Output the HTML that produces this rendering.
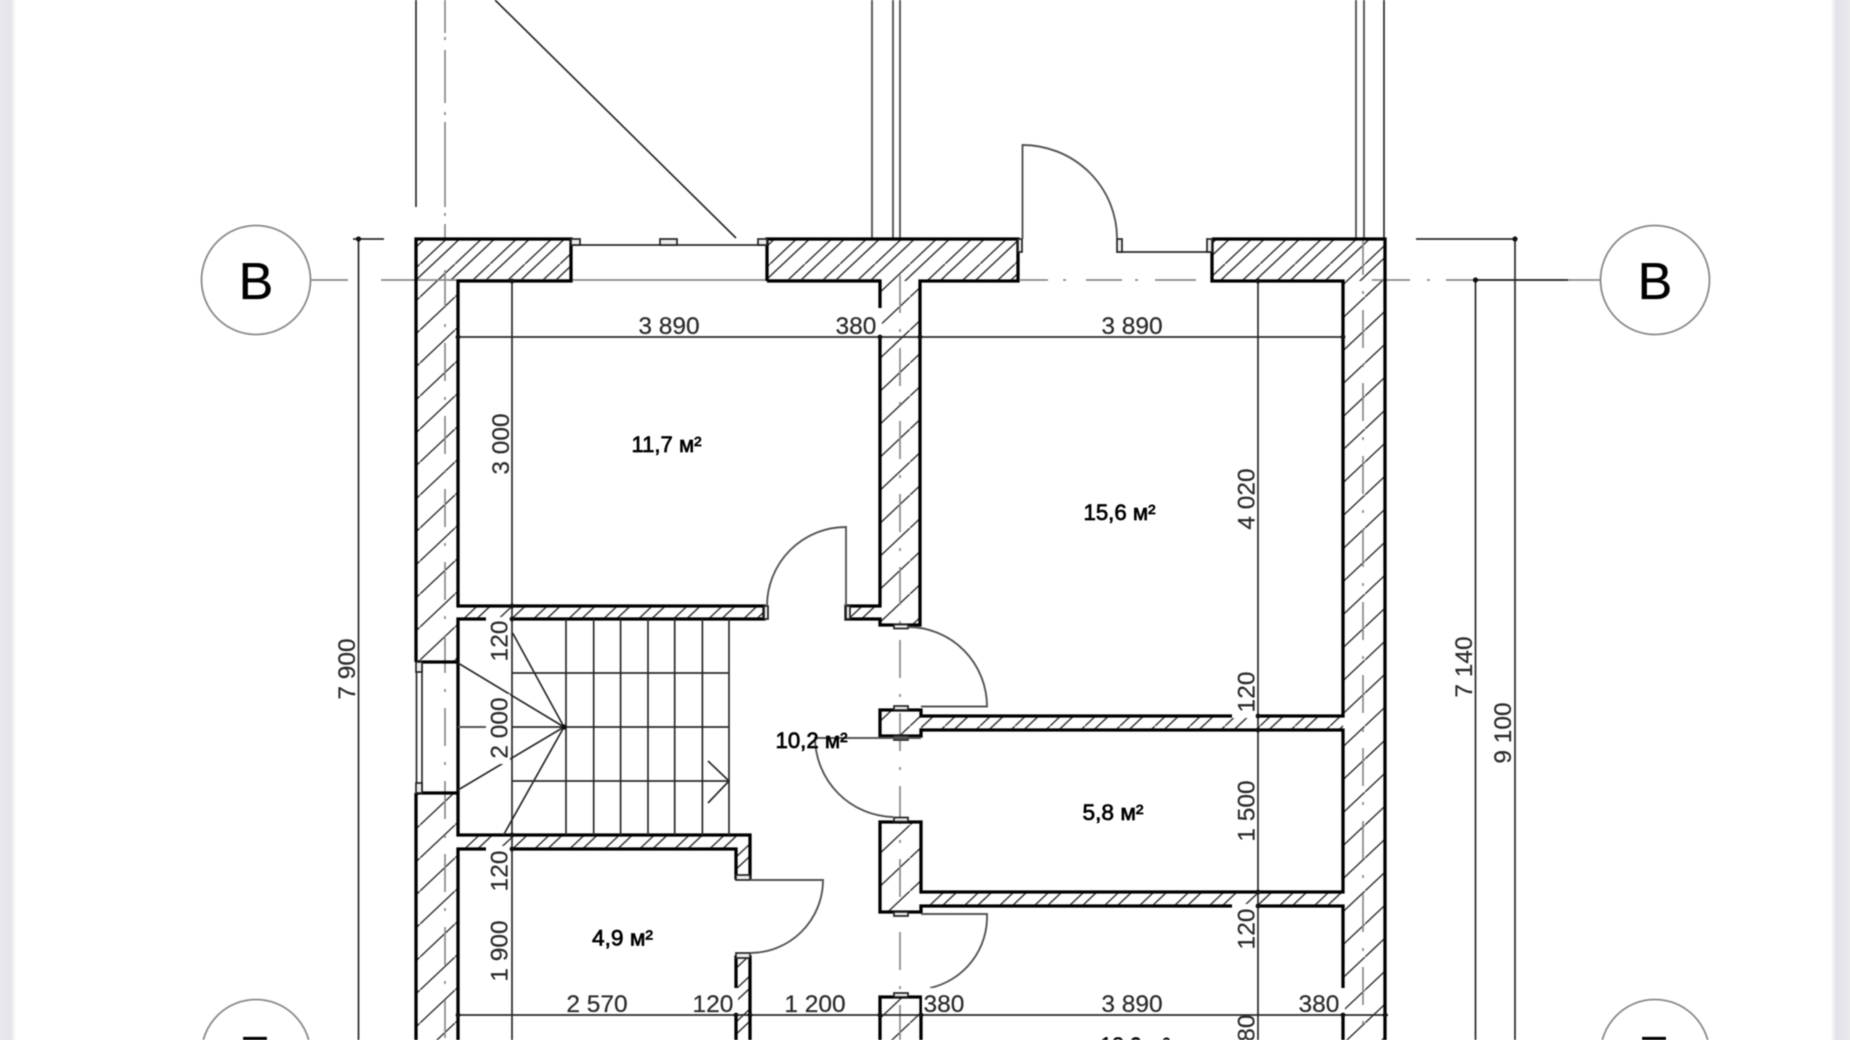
<!DOCTYPE html>
<html>
<head>
<meta charset="utf-8">
<title>Floor plan</title>
<style>
html,body{margin:0;padding:0;width:1850px;height:1040px;overflow:hidden;background:#fff}
#l,#r{position:absolute;top:0;height:1040px}
#l{left:0;width:17px;background:linear-gradient(to right,#e9e9ee 0,#e4e4ea 11px,#f6f6f8 14px,#fff 17px)}
#r{right:0;width:20px;background:linear-gradient(to left,#e9e9ee 0,#e2e2e8 14px,#f4f4f6 17px,#fff 20px)}
svg{position:absolute;left:0;top:0;filter:blur(.6px)}
text{font-family:"Liberation Sans",sans-serif}
.d{font-size:24.500px;fill:#2a2a2a;text-anchor:middle;stroke:#2a2a2a;stroke-width:.2px}
.a{font-size:22px;fill:#000;stroke:#000;stroke-width:.7px}
.o{fill:none;stroke:#000;stroke-width:3.3}
.t{fill:none;stroke:#2a2a2a;stroke-width:1.7}
.g{fill:none;stroke:#555;stroke-width:1.9}
.x{fill:none;stroke:#8a8a8a;stroke-width:1.7;stroke-dasharray:38 16 3 16}
.y{fill:none;stroke:#8a8a8a;stroke-width:1.7}
.m{fill:#eee;stroke:#222;stroke-width:1.7}
.c{fill:#fff;stroke:#8a8a8a;stroke-width:1.8}
.b{font-size:52px;fill:#000;text-anchor:middle;stroke:#000;stroke-width:.3px}
</style>
</head>
<body>
<div id="l"></div><div id="r"></div>
<svg width="1850" height="1040" viewBox="0 0 1850 1040" xmlns="http://www.w3.org/2000/svg">
<defs>
<pattern id="h" width="35" height="33" patternUnits="userSpaceOnUse">
<path d="M-3.500 36.300L38.500 -3.300M9.500 36.300L38.500 9M-3.500 15.500L16.500 -3.300" stroke="#3a3a3a" stroke-width="1.5" fill="none"/>
</pattern>
<pattern id="v" width="35" height="33" patternUnits="userSpaceOnUse">
<path d="M-3.500 36.300L38.500 -3.300" stroke="#3a3a3a" stroke-width="1.5" fill="none"/>
</pattern>
</defs>

<!-- top lines -->
<path class="t" d="M416 0V207M495 0L736 238M1384 0V239"/>
<path class="g" d="M872 0V239M893 0V239M900 0V239M1356 0V239M1364 0V239"/>

<!-- hatch -->
<g fill="url(#h)">
<rect x="416" y="239" width="155" height="42"/>
<rect x="767" y="239" width="251" height="42"/>
<rect x="1212" y="239" width="173" height="42"/>
<rect x="458" y="606" width="306" height="13"/>
<rect x="846" y="606" width="34" height="13"/>
<rect x="458" y="835" width="292" height="14"/>
<rect x="736" y="849" width="14" height="29"/>
<rect x="736" y="957" width="14" height="83"/>
<rect x="921" y="716" width="422" height="14"/>
<rect x="921" y="892" width="422" height="14"/>
</g>
<g fill="url(#v)">
<rect x="416" y="281" width="42" height="381"/>
<rect x="416" y="793" width="42" height="247"/>
<rect x="880" y="281" width="40" height="344"/>
<rect x="1343" y="281" width="42" height="759"/>
<rect x="880" y="710" width="41" height="26"/>
<rect x="880" y="822" width="41" height="90"/>
<rect x="880" y="997" width="41" height="43"/>
</g>

<!-- axes -->
<path class="y" d="M445 0V33M445 37V40M445 50V103M445 112V115M445 122V207M445 213V216M445 224V239"/>
<path class="x" d="M445 270V1040"/>
<path class="x" d="M1363 237V1040"/>
<path class="x" d="M900 275V1040"/>
<path class="y" d="M311 280H348M381 280H880"/>
<path class="y" d="M1020 280H1048M1063 280H1066M1086 280H1122M1135 280H1138M1155 280H1196"/>
<path class="y" d="M1372 280H1410M1427 280H1430M1446 280H1600"/>

<!-- wall outlines -->
<path class="o" d="M416 662V239H571V281H458V606H764V619H458V835H750V878H736V849H458V1040"/>
<path class="o" d="M416 662H458M416 793H458M416 793V1040"/>
<path class="o" d="M767 281V239H1018V281H920V625H880V619H846V606H880V281H767"/>
<path class="o" d="M1212 239H1385V1040M1212 239V281H1343V716H921V710H880V736H921V730H1343V892H921V822H880V912H921V906H1343V1040"/>
<path class="o" d="M880 1040V997H921V1040M736 1040V957H750V1040"/>

<!-- windows -->
<path class="t" d="M571 245H767M1117 252H1212M416.500 662V793M422 662V793"/>
<rect class="m" x="571" y="239" width="9" height="6"/>
<rect class="m" x="660" y="239" width="17" height="6"/>
<rect class="m" x="758" y="239" width="9" height="6"/>
<rect class="m" x="1117" y="239" width="5" height="13"/>
<rect class="m" x="1207" y="239" width="5" height="13"/>
<rect class="m" x="1018" y="239" width="4" height="13"/>
<rect class="m" x="416" y="662" width="6" height="10"/>
<rect class="m" x="416" y="783" width="6" height="10"/>
<rect class="m" x="764" y="606" width="4" height="13"/>
<rect class="m" x="846" y="606" width="4" height="13"/>
<rect class="m" x="736" y="875" width="14" height="5"/>
<rect class="m" x="736" y="953" width="14" height="5"/>
<rect class="m" x="894" y="624.500" width="14" height="4"/>
<rect class="m" x="894" y="706" width="14" height="4"/>
<rect class="m" x="894" y="736" width="14" height="4"/>
<rect class="m" x="894" y="817.500" width="14" height="4"/>
<rect class="m" x="894" y="912" width="14" height="4"/>
<rect class="m" x="894" y="993" width="14" height="4"/>

<!-- doors -->
<path class="g" d="M1022.500 239V145A94.500 93.500 0 0 1 1117 238.500"/>
<path class="g" d="M846 606V527A79 79 0 0 0 767 606"/>
<path class="g" d="M908 627A79 79.500 0 0 1 987 706.500H921"/>
<path class="g" d="M921 738H815A80 80 0 0 0 893 817"/>
<path class="g" d="M750 880H823A73 73 0 0 1 750 953"/>
<path class="g" d="M921 914H987A73 73 0 0 1 930 988"/>

<!-- stairs -->
<path class="t" d="M566 619V835M593.700 619V835M620.600 619V835M648 619V835M674.700 619V835M702.400 619V835M729 619V835"/>
<path class="t" d="M512 673H729M512 727H729M512 781H729"/>
<path class="t" d="M564 727L458 663M564 727L458 790M564 727L512.600 633M564 727L503.500 835"/>
<path class="t" d="M708 761L729 781L708 803"/>
<path class="g" d="M458 727H505"/>

<!-- text clearance -->
<g fill="#fff">
<rect x="486" y="617" width="24" height="46"/>
<rect x="486" y="694" width="24" height="70"/>
<rect x="486" y="846" width="24" height="44"/>
<rect x="1232" y="670" width="24" height="48"/>
<rect x="1232" y="904" width="24" height="46"/>
<rect x="836" y="308" width="46" height="28"/>
<rect x="692" y="988" width="46" height="26"/>
<rect x="922" y="988" width="46" height="26"/>
<rect x="1296" y="988" width="49" height="26"/>
</g>

<!-- dimension lines -->
<path class="t" d="M458 337H1343M458 1015H1388"/>
<path class="t" d="M512 281V1040M1258 281V1040M358.500 239V1040M1475.500 280V1040M1515 239V1040"/>
<path class="t" d="M353 239H384M1416 239H1515M1475 280H1568"/>
<g fill="#111">
<circle cx="358.500" cy="239" r="2.600"/><circle cx="512" cy="281" r="2.400"/>
<circle cx="458" cy="337" r="2.400"/><circle cx="880" cy="337" r="2.400"/><circle cx="920" cy="337" r="2.400"/><circle cx="1343" cy="337" r="2.400"/>
<circle cx="1258" cy="281" r="2.400"/><circle cx="1475.500" cy="280" r="2.600"/><circle cx="1515" cy="239" r="2.600"/>
<circle cx="512" cy="606" r="2.400"/><circle cx="512" cy="619" r="2.400"/><circle cx="512" cy="835" r="2.400"/><circle cx="512" cy="849" r="2.400"/>
<circle cx="1258" cy="716" r="2.400"/><circle cx="1258" cy="730" r="2.400"/><circle cx="1258" cy="892" r="2.400"/><circle cx="1258" cy="906" r="2.400"/>
<circle cx="564" cy="727" r="2.600"/>
<circle cx="458" cy="1015" r="2.400"/><circle cx="736" cy="1015" r="2.400"/><circle cx="750" cy="1015" r="2.400"/><circle cx="880" cy="1015" r="2.400"/><circle cx="921" cy="1015" r="2.400"/><circle cx="1343" cy="1015" r="2.400"/><circle cx="1385" cy="1015" r="2.400"/>
</g>

<!-- axis bubbles -->
<circle class="c" cx="256" cy="280" r="54.500"/>
<circle class="c" cx="1655" cy="280" r="54.500"/>
<circle class="c" cx="256" cy="1054" r="54.500"/>
<circle class="c" cx="1655" cy="1054" r="54.500"/>
<text class="b" x="256" y="299">B</text>
<text class="b" x="1655" y="299">B</text>
<text class="b" x="256" y="1073">Б</text>
<text class="b" x="1655" y="1073">Б</text>

<!-- horizontal dims -->
<text class="d" x="669" y="334">3 890</text>
<text class="d" x="856" y="334">380</text>
<text class="d" x="1132" y="334">3 890</text>
<text class="d" x="597" y="1012">2 570</text>
<text class="d" x="713" y="1012">120</text>
<text class="d" x="815" y="1012">1 200</text>
<text class="d" x="944" y="1012">380</text>
<text class="d" x="1132" y="1012">3 890</text>
<text class="d" x="1319" y="1012">380</text>

<!-- vertical dims -->
<text class="d" transform="translate(355 669) rotate(-90)">7 900</text>
<text class="d" transform="translate(509 444) rotate(-90)">3 000</text>
<text class="d" transform="translate(507.500 641) rotate(-90)">120</text>
<text class="d" transform="translate(507.500 728) rotate(-90)">2 000</text>
<text class="d" transform="translate(507.500 871) rotate(-90)">120</text>
<text class="d" transform="translate(507.500 951) rotate(-90)">1 900</text>
<text class="d" transform="translate(1254.500 499) rotate(-90)">4 020</text>
<text class="d" transform="translate(1254.500 692) rotate(-90)">120</text>
<text class="d" transform="translate(1254.500 811) rotate(-90)">1 500</text>
<text class="d" transform="translate(1254.500 929) rotate(-90)">120</text>
<text class="d" transform="translate(1254.500 1035) rotate(-90)">380</text>
<text class="d" transform="translate(1472 667) rotate(-90)">7 140</text>
<text class="d" transform="translate(1511 733) rotate(-90)">9 100</text>

<!-- room areas -->
<text class="a" x="631.500" y="452" textLength="70" lengthAdjust="spacingAndGlyphs">11,7 м²</text>
<text class="a" x="1083.500" y="520" textLength="72" lengthAdjust="spacingAndGlyphs">15,6 м²</text>
<text class="a" x="775.500" y="748" textLength="72" lengthAdjust="spacingAndGlyphs">10,2 м²</text>
<text class="a" x="1082.500" y="820" textLength="61" lengthAdjust="spacingAndGlyphs">5,8 м²</text>
<text class="a" x="592" y="945.500" textLength="61" lengthAdjust="spacingAndGlyphs">4,9 м²</text>
<text class="a" x="1100" y="1053" textLength="70" lengthAdjust="spacingAndGlyphs">18,9 м²</text>
</svg>
</body>
</html>
